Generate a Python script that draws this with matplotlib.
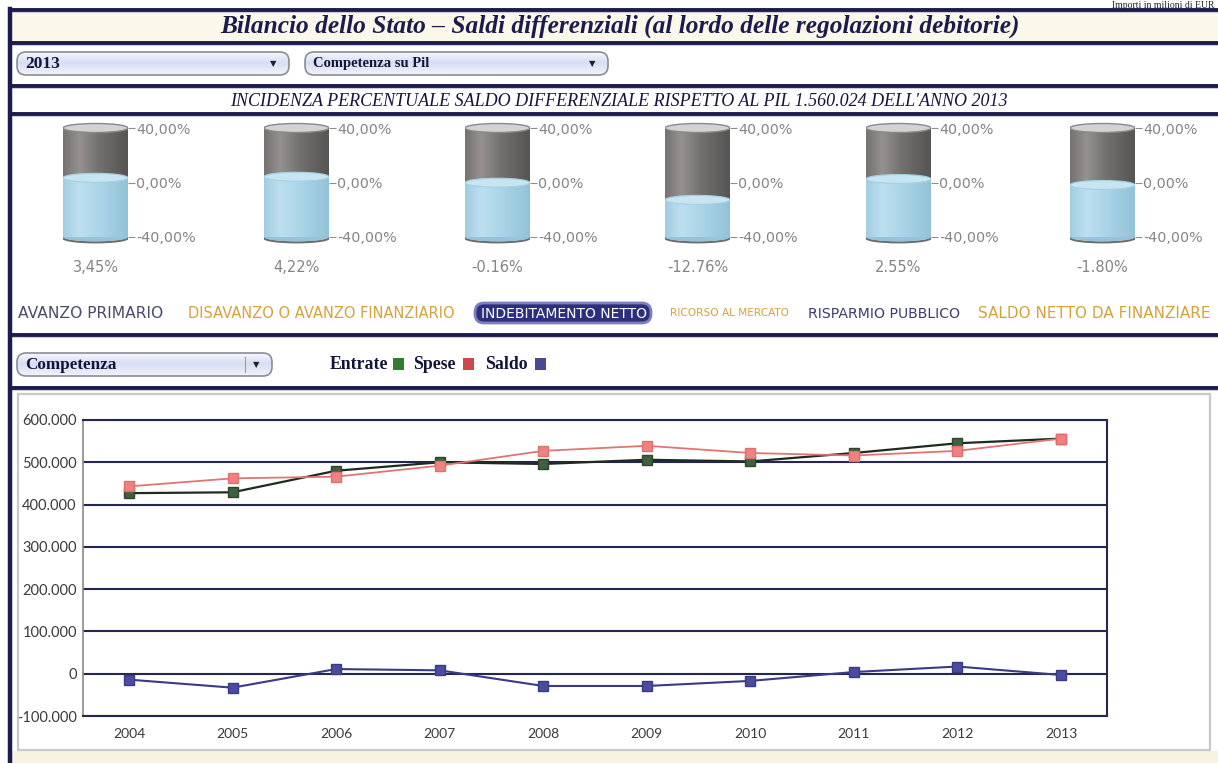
import numpy as np
import matplotlib
matplotlib.use('Agg')
import matplotlib.pyplot as plt
from matplotlib.patches import Rectangle, Ellipse, FancyBboxPatch
from matplotlib.ticker import FuncFormatter, FixedLocator

# ---------------- data ----------------
years = [2004, 2005, 2006, 2007, 2008, 2009, 2010, 2011, 2012, 2013]
entrate = [427000, 429000, 480000, 500000, 496000, 506000, 502000, 522000, 545000, 556000]
spese = [443000, 462000, 466000, 492000, 527000, 539000, 522000, 516000, 527000, 556000]
saldo = [-14000, -33000, 11000, 8000, -29000, -29000, -17000, 4000, 17000, -3000]
y_ticks = [-100000, 0, 100000, 200000, 300000, 400000, 500000, 600000]

incidenza_pil = [3.45, 4.22, -0.16, -12.76, 2.55, -1.80]
incidenza_labels = ["3,45%", "4,22%", "-0.16%", "-12.76%", "2.55%", "-1.80%"]
cyl_ticks = [-40, 0, 40]
cyl_tick_labels = ["-40,00%", "0,00%", "40,00%"]

saldi_nomi = ["AVANZO PRIMARIO", "DISAVANZO O AVANZO FINANZIARIO",
              "INDEBITAMENTO NETTO", "RICORSO AL MERCATO",
              "RISPARMIO PUBBLICO", "SALDO NETTO DA FINANZIARE"]
legend_names = ["Entrate", "Spese", "Saldo"]

title = "Bilancio dello Stato \u2013 Saldi differenziali (al lordo delle regolazioni debitorie)"
subtitle = "INCIDENZA PERCENTUALE SALDO DIFFERENZIALE RISPETTO AL PIL 1.560.024 DELL'ANNO 2013"

# ---------------- figure ----------------
W, H = 1218, 763
fig = plt.figure(figsize=(W / 100, H / 100), dpi=100)
fig.patch.set_facecolor('white')

bg = fig.add_axes([0, 0, 1, 1])
bg.set_xlim(0, W)
bg.set_ylim(H, 0)
bg.axis('off')


def px_axes(x0, y0, x1, y1):
    return fig.add_axes([x0 / W, 1 - y1 / H, (x1 - x0) / W, (y1 - y0) / H])


NAVY = '#1b1b4d'
SERIF = 'Liberation Serif'

# backgrounds
bg.add_patch(Rectangle((11, 11), W, 32, color='#fbf7ea', zorder=0))
bg.add_patch(Rectangle((11, 751), W, 20, color='#f8f3e1', zorder=0))
bg.add_patch(Rectangle((18, 394), 1192, 356, facecolor='white',
                       edgecolor='#c9c9c9', lw=1.6, zorder=1))

# navy separator lines
for yy in [10, 43, 86, 114, 335, 388]:
    bg.plot([9, W], [yy, yy], color=NAVY, lw=2.8, solid_capstyle='butt', zorder=3)
    bg.plot([9, W], [yy + 2.3, yy + 2.3], color='#9a9ab8', lw=0.8, alpha=0.5, zorder=3)
bg.plot([10, 10], [9, H], color=NAVY, lw=3.2, zorder=3)

# header texts
bg.text(1215, 0.5, "Importi in milioni di EUR", ha='right', va='top',
        fontsize=7, family=SERIF, color='#222222', zorder=4)
bg.text(620, 26, title, ha='center', va='center', fontsize=18.3,
        family=SERIF, fontweight='bold', fontstyle='italic', color=NAVY)
bg.text(619, 101, subtitle, ha='center', va='center', fontsize=13,
        family=SERIF, fontstyle='italic', color='#15153a')


def grad_box(x0, y0, x1, y1, text, fs, sep=False):
    box = FancyBboxPatch((x0, y0), x1 - x0, y1 - y0,
                         boxstyle='round,pad=0,rounding_size=9',
                         facecolor='none', edgecolor='#8c8c96', lw=1.2, zorder=6)
    bg.add_patch(box)
    g = np.linspace(0, 1, 50)
    r = np.interp(g, [0, 0.45, 1], [0.97, 0.84, 0.95])
    gg = np.interp(g, [0, 0.45, 1], [0.97, 0.87, 0.95])
    b = np.interp(g, [0, 0.45, 1], [0.99, 0.95, 0.98])
    img = np.dstack([r, gg, b]).reshape(50, 1, 3)
    im = bg.imshow(img, extent=[x0, x1, y1, y0], aspect='auto', zorder=5)
    im.set_clip_path(box)
    bg.text(x0 + 8, (y0 + y1) / 2 + 0.5, text, ha='left', va='center', fontsize=fs,
            family=SERIF, fontweight='bold', color='#14143a', zorder=7)
    bg.text(x1 - 16, (y0 + y1) / 2, "\u25BC", ha='center', va='center', fontsize=6,
            color='#222222', zorder=7)
    if sep:
        bg.plot([x1 - 27, x1 - 27], [y0 + 4, y1 - 4], color='#9a9aa8', lw=0.8, zorder=7)


grad_box(17, 52, 289, 75, "2013", 12.5)
grad_box(305, 52, 608, 75, "Competenza su Pil", 10.5)
grad_box(17, 353, 272, 376, "Competenza", 12.3, sep=True)

bg.set_xlim(0, W)
bg.set_ylim(H, 0)

# ---------------- cylinders ----------------
cyl_left = [63, 264, 465, 665, 866, 1070]
cyl_w = 65
ppu = 109 / 80.0  # pixels per percentage unit
top_px, bot_px = 116, 256
y40_px, ym40_px = 128, 237
ylim_top = 40 + (y40_px - top_px) / ppu
ylim_bot = -40 - (bot_px - ym40_px) / ppu
eh = 9 / ppu


def hgrad(stops, cols):
    x = np.linspace(0, 1, 80)
    rgb = [matplotlib.colors.to_rgb(c) for c in cols]
    ch = [np.interp(x, stops, [c[i] for c in rgb]) for i in range(3)]
    return np.dstack(ch)


gray_img = hgrad([0, 0.25, 0.55, 1], ['#767272', '#959191', '#737070', '#575454'])
blue_img = hgrad([0, 0.25, 0.6, 1], ['#a2cde0', '#bddff0', '#a9d3e6', '#93c2d8'])

for i, val in enumerate(incidenza_pil):
    x0 = cyl_left[i]
    ax = px_axes(x0, top_px, x0 + cyl_w, bot_px)
    ax.set_facecolor('none')
    ax.imshow(gray_img, extent=[0, 1, -40, 40], aspect='auto', zorder=1)
    ax.add_patch(Ellipse((0.5, -40), 1, eh, facecolor='#96c3d9', edgecolor='none', zorder=1.5))
    ax.imshow(blue_img, extent=[0, 1, -40, val], aspect='auto', zorder=2)
    ax.add_patch(Ellipse((0.5, -40.6), 1, eh, facecolor='none', edgecolor='#6c6c6c',
                         lw=1.6, zorder=1.2))
    ax.add_patch(Ellipse((0.5, val), 1, eh, facecolor='#c6e4f1', edgecolor='#a6cfe2',
                         lw=0.8, zorder=3))
    ax.add_patch(Ellipse((0.5, 40), 1, eh, facecolor='#d4d2d2', edgecolor='#8a8888',
                         lw=1.0, zorder=3))
    ax.set_xlim(0, 1)
    ax.set_ylim(ylim_bot, ylim_top)
    ax.set_xticks([])
    ax.yaxis.tick_right()
    ax.yaxis.set_major_locator(FixedLocator(cyl_ticks))
    ax.set_yticklabels(cyl_tick_labels)
    ax.tick_params(axis='y', length=5, width=0.8, color='#909090', pad=1,
                   labelsize=10.3, labelcolor='#858585')
    for lab in ax.get_yticklabels():
        lab.set_family('DejaVu Sans')
    for s in ax.spines.values():
        s.set_visible(False)
    bg.text(x0 + cyl_w / 2, 268, incidenza_labels[i], ha='center', va='center',
            fontsize=10.5, family='DejaVu Sans', color='#858585')

# ---------------- saldi menu ----------------
menu_x = [18, 188, 481, 670, 808, 978]
menu_col = ['#4a4a6e', '#d6a23c', 'white', '#d6a23c', '#3c3c72', '#d6a23c']
menu_fs = [11.2, 10.5, 10.0, 7.6, 10.1, 11.0]
bg.add_patch(FancyBboxPatch((475, 303), 176, 20, boxstyle='round,pad=0,rounding_size=9',
                            facecolor='#2b2f7c', edgecolor='#7d80bd', lw=2.0, zorder=4))
for nm, xx, cc, fs in zip(saldi_nomi, menu_x, menu_col, menu_fs):
    bg.text(xx, 313.5, nm, ha='left', va='center', fontsize=fs,
            family='DejaVu Sans', color=cc, zorder=5)

# ---------------- legend ----------------
leg_cols = ['#2f7d2f', '#cc4a4a', '#4a4a92']
leg_text_x = [330, 413, 485]
leg_sq_x = [393, 463, 535]
for nm, tx, sx, cc in zip(legend_names, leg_text_x, leg_sq_x, leg_cols):
    bg.text(tx, 364.5, nm, ha='left', va='center', fontsize=12.8, family=SERIF,
            fontweight='bold', color='#14143a')
    bg.add_patch(Rectangle((sx, 358), 11, 12, facecolor=cc, edgecolor='none', zorder=5))

# ---------------- main chart ----------------
ax = px_axes(83, 420, 1107, 716)
ax.plot(years, saldo, color='#3a3a86', lw=1.5, marker='s', ms=6.5,
        mfc='#4c4c9e', mec='#3a3a86', zorder=4)
ax.plot(years, entrate, color='#1f2b1f', lw=1.6, marker='s', ms=6.5,
        mfc='#40603f', mec='#2d462d', zorder=4)
ax.plot(years, spese, color='#e27474', lw=1.3, marker='s', ms=6.5,
        mfc='#ee8282', mec='#e07070', zorder=5)
ax.set_ylim(-100000, 600000)
ax.set_xlim(2004 - 0.444, 2013 + 0.444)
ax.set_yticks(y_ticks)
ax.set_xticks(years)
ax.yaxis.set_major_formatter(FuncFormatter(lambda v, p: f"{int(v):,}".replace(',', '.')))
ax.grid(axis='y', color='#262654', lw=1.5)
ax.set_axisbelow(True)
ax.tick_params(length=0, labelcolor='#3a3a3a')
ax.tick_params(axis='y', labelsize=10.5, pad=4.5)
ax.tick_params(axis='x', labelsize=10, pad=9)
for lab in ax.get_xticklabels() + ax.get_yticklabels():
    lab.set_family('Lato')
ax.spines['left'].set_color('#8a8a8a')
ax.spines['left'].set_linewidth(1.2)
for s in ['bottom', 'right', 'top']:
    ax.spines[s].set_color('#262654')
    ax.spines[s].set_linewidth(1.5)

fig.savefig('out.png', dpi=100)
